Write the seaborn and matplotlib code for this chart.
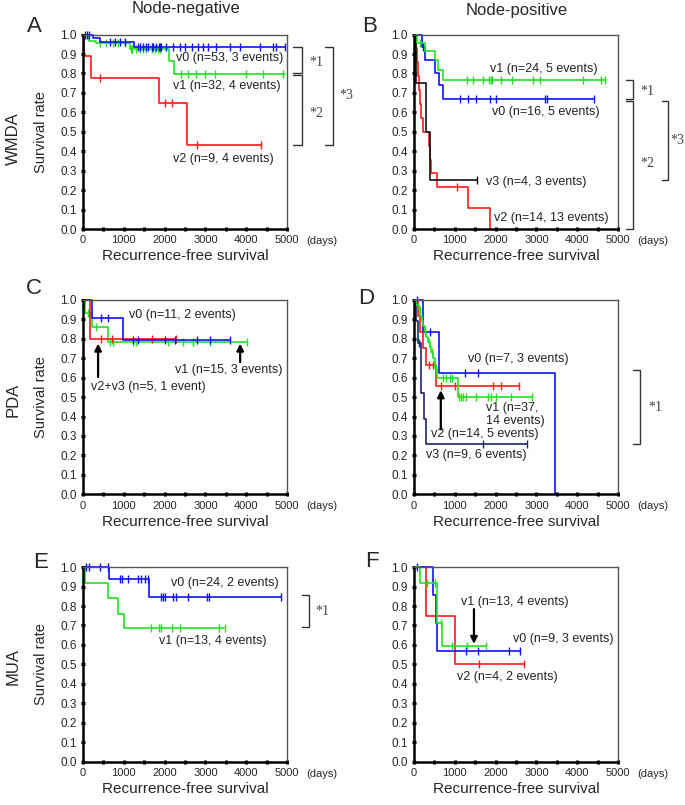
import numpy as np
import pandas as pd
import matplotlib
matplotlib.use('Agg')
import matplotlib.pyplot as plt
import matplotlib.transforms as mtransforms
from matplotlib.ticker import MultipleLocator, FormatStrFormatter
import seaborn as sns

#%% data (days, survival after each event, censored days)

# A: WMDA, node-negative
a_v0_t = [250, 420, 1240]
a_v0_s = [0.981, 0.962, 0.935]
a_v0_end = 4950
a_v0_c = [60, 100, 150, 650, 780, 900, 1020, 1350, 1390, 1470, 1550, 1590, 1680, 1720,
          1800, 1860, 1880, 1900, 2040, 2210, 2370, 2490, 2660, 2820, 2940, 3060, 3270,
          3600, 3840, 4330, 4660, 4740, 4950]
a_v1_t = [150, 330, 1150, 2100, 2230]
a_v1_s = [0.969, 0.955, 0.925, 0.865, 0.795]
a_v1_end = 4950
a_v1_c = [410, 570, 740, 860, 1020, 1170, 1190, 1310, 1390, 1470, 1550, 1680, 1760, 1840,
          1880, 2410, 2570, 2780, 2980, 3230, 4000, 4410, 4900]
a_v2_t = [20, 200, 1870, 2550]
a_v2_s = [0.889, 0.778, 0.648, 0.432]
a_v2_end = 4370
a_v2_c = [410, 2000, 2170, 2800, 4370]

# B: WMDA, node-positive
b_v1_t = [80, 270, 515, 600, 700]
b_v1_s = [0.958, 0.917, 0.87, 0.82, 0.765]
b_v1_end = 4700
b_v1_c = [150, 1310, 1440, 1700, 1840, 1880, 1900, 2120, 2390, 2920, 3080, 4140, 4590, 4670]
b_v0_t = [190, 270, 515, 620, 720]
b_v0_s = [0.9375, 0.867, 0.80, 0.74, 0.667]
b_v0_end = 4420
b_v0_c = [230, 1130, 1330, 1530, 1860, 2010, 3210, 3250, 4420]
b_v3_t = [50, 290, 390]
b_v3_s = [0.75, 0.5, 0.25]
b_v3_end = 1550
b_v3_c = [1550]
b_v2_t = [40, 70, 100, 130, 150, 180, 220, 375, 390, 405, 560, 1330, 1870]
b_v2_s = [0.929, 0.857, 0.786, 0.714, 0.643, 0.571, 0.5, 0.429, 0.357, 0.286, 0.214, 0.107, 0.0]
b_v2_end = 1870
b_v2_c = [1050]

# C: PDA, node-negative
c_v0_t = [230, 970]
c_v0_s = [0.909, 0.795]
c_v0_end = 3600
c_v0_c = [450, 615, 1230, 1350, 2020, 2250, 2790, 3110, 3600]
c_v23_t = [170]
c_v23_s = [0.8]
c_v23_end = 2270
c_v23_c = [430, 710, 1680, 2270]
c_v1_t = [60, 230, 600]
c_v1_s = [0.933, 0.862, 0.783]
c_v1_end = 4020
c_v1_c = [120, 330, 660, 740, 1230, 1300, 2090, 2460, 2700, 3110, 4020]

# D: PDA, node-positive
d_v0_t = [230, 620, 3450]
d_v0_s = [0.833, 0.625, 0.0]
d_v0_end = 3450
d_v0_c = [80, 400, 1250, 1580]
d_v2_t = [100, 150, 230, 290, 530]
d_v2_s = [0.917, 0.833, 0.75, 0.667, 0.556]
d_v2_end = 2570
d_v2_c = [370, 460, 660, 1000, 1930, 2120, 2570]
d_v1_t = [60, 110, 150, 190, 220, 260, 300, 340, 380, 420, 460, 520, 570, 1080]
d_v1_s = [0.973, 0.946, 0.919, 0.892, 0.865, 0.838, 0.811, 0.784, 0.757, 0.730, 0.703,
          0.65, 0.60, 0.50]
d_v1_end = 2890
d_v1_c = [145, 270, 375, 435, 540, 700, 780, 870, 920, 1100, 1140, 1190, 1270, 1530,
          1820, 1880, 2000, 2380, 2890]
d_v3_t = [50, 100, 160, 245, 294]
d_v3_s = [0.889, 0.778, 0.519, 0.389, 0.259]
d_v3_end = 2760
d_v3_c = [130, 1690, 2760]

# E: MUA, node-negative
e_v0_t = [640, 1620]
e_v0_s = [0.94, 0.845]
e_v0_end = 4860
e_v0_c = [65, 150, 410, 620, 900, 960, 1100, 1350, 1430, 1510, 1590, 1920, 1960, 2020,
          2210, 2290, 2570, 3040, 3100, 4860]
e_v1_t = [40, 600, 860, 1010]
e_v1_s = [0.917, 0.84, 0.76, 0.687]
e_v1_end = 3450
e_v1_c = [1670, 1860, 1900, 2190, 2370, 3330, 3470]

# F: MUA, node-positive
f_v0_t = [460, 530, 575]
f_v0_s = [0.857, 0.714, 0.571]
f_v0_end = 2600
f_v0_c = [80, 1270, 1570, 2340, 2600]
f_v1_t = [150, 560, 690]
f_v1_s = [0.917, 0.714, 0.595]
f_v1_end = 1770
f_v1_c = [320, 510, 650, 920, 1300, 1770]
f_v2_t = [300, 1000]
f_v2_s = [0.75, 0.5]
f_v2_end = 2700
f_v2_c = [1600, 2700]

BLUE = '#1010ff'
GREEN = '#22e022'
RED = '#ff1a1a'
BLACK = '#111111'
NAVY = '#25256a'

#%% helpers

def km(ax, t, s, end, cens, color):
    x = [0] + list(t) + [end]
    y = [1.0] + list(s) + [s[-1]]
    df = pd.DataFrame({'days': x, 'surv': y})
    sns.lineplot(data=df, x='days', y='surv', ax=ax, color=color, lw=1.2,
                 drawstyle='steps-post', estimator=None, sort=False, clip_on=False)
    # survival level at each censored time
    idx = np.searchsorted(np.array(t), np.array(cens), side='right')
    lev = np.concatenate([[1.0], s])[idx]
    ax.plot(cens, lev, ls='none', marker='|', ms=6, mew=1.0, color=color, clip_on=False)


def bracket(ax, x0, x1, ytop, ybot, label, tx, ty):
    tr = mtransforms.blended_transform_factory(ax.transAxes, ax.transData)
    ax.plot([x0, x1, x1, x0], [ytop, ytop, ybot, ybot], color='#333333', lw=1.0,
            transform=tr, clip_on=False)
    ax.text(tx, ty, label, transform=tr, fontsize=10, family='Liberation Serif',
            color='#444444', va='center', ha='left')


def arrow(ax, x, y_from, y_to):
    ax.annotate('', xy=(x, y_to), xytext=(x, y_from),
                arrowprops=dict(arrowstyle='-|>', color='black', lw=1.6,
                                mutation_scale=10, shrinkA=0, shrinkB=0))


def note(ax, x, y, txt):
    ax.text(x, y, txt, fontsize=9, ha='left', va='center', color='#222222',
            linespacing=1.05)


#%% figure

sns.set_style('white')
plt.rcParams['font.family'] = ['Liberation Sans', 'DejaVu Sans']

fig = plt.figure(figsize=(6.85, 8.05), dpi=100)

lefts = [0.1212, 0.6044]
bottoms = [0.7155, 0.386, 0.054]
w, h = 0.2978, 0.2415

axes = {}
for r, key_row in enumerate([('A', 'B'), ('C', 'D'), ('E', 'F')]):
    for c, key in enumerate(key_row):
        ax = fig.add_axes([lefts[c], bottoms[r], w, h])
        axes[key] = ax

# A
ax = axes['A']
km(ax, a_v2_t, a_v2_s, a_v2_end, a_v2_c, RED)
km(ax, a_v1_t, a_v1_s, a_v1_end, a_v1_c, GREEN)
km(ax, a_v0_t, a_v0_s, a_v0_end, a_v0_c, BLUE)
note(ax, 2290, 0.880, 'v0 (n=53, 3 events)')
note(ax, 2200, 0.738, 'v1 (n=32, 4 events)')
note(ax, 2200, 0.362, 'v2 (n=9, 4 events)')
bracket(ax, 1.029, 1.074, 0.935, 0.80, '*1', 1.11, 0.856)
bracket(ax, 1.029, 1.074, 0.79, 0.43, '*2', 1.11, 0.595)
bracket(ax, 1.186, 1.225, 0.935, 0.43, '*3', 1.255, 0.687)

# B
ax = axes['B']
km(ax, b_v2_t, b_v2_s, b_v2_end, b_v2_c, RED)
km(ax, b_v3_t, b_v3_s, b_v3_end, b_v3_c, BLACK)
km(ax, b_v0_t, b_v0_s, b_v0_end, b_v0_c, BLUE)
km(ax, b_v1_t, b_v1_s, b_v1_end, b_v1_c, GREEN)
note(ax, 1860, 0.824, 'v1 (n=24, 5 events)')
note(ax, 1900, 0.602, 'v0 (n=16, 5 events)')
note(ax, 1754, 0.243, 'v3 (n=4, 3 events)')
note(ax, 1958, 0.055, 'v2 (n=14, 13 events)')
bracket(ax, 1.039, 1.074, 0.765, 0.667, '*1', 1.108, 0.708)
bracket(ax, 1.039, 1.074, 0.657, 0.0, '*2', 1.108, 0.338)
bracket(ax, 1.216, 1.245, 0.657, 0.25, '*3', 1.255, 0.456)

# C
ax = axes['C']
km(ax, c_v1_t, c_v1_s, c_v1_end, c_v1_c, GREEN)
km(ax, c_v23_t, c_v23_s, c_v23_end, c_v23_c, RED)
km(ax, c_v0_t, c_v0_s, c_v0_end, c_v0_c, BLUE)
note(ax, 1131, 0.92, 'v0 (n=11, 2 events)')
note(ax, 2254, 0.638, 'v1 (n=15, 3 events)')
note(ax, 205, 0.552, 'v2+v3 (n=5, 1 event)')
arrow(ax, 369, 0.603, 0.775)
arrow(ax, 3852, 0.68, 0.775)

# D
ax = axes['D']
km(ax, d_v3_t, d_v3_s, d_v3_end, d_v3_c, NAVY)
km(ax, d_v0_t, d_v0_s, d_v0_end, d_v0_c, BLUE)
km(ax, d_v2_t, d_v2_s, d_v2_end, d_v2_c, RED)
km(ax, d_v1_t, d_v1_s, d_v1_end, d_v1_c, GREEN)
note(ax, 1323, 0.695, 'v0 (n=7, 3 events)')
note(ax, 1770, 0.41, 'v1 (n=37,\n14 events)')
note(ax, 406, 0.309, 'v2 (n=14, 5 events)')
note(ax, 292, 0.20, 'v3 (n=9, 6 events)')
arrow(ax, 657, 0.334, 0.535)
bracket(ax, 1.074, 1.108, 0.64, 0.257, '*1', 1.147, 0.446)

# E
ax = axes['E']
km(ax, e_v1_t, e_v1_s, e_v1_end, e_v1_c, GREEN)
km(ax, e_v0_t, e_v0_s, e_v0_end, e_v0_c, BLUE)
note(ax, 2165, 0.919, 'v0 (n=24, 2 events)')
note(ax, 1863, 0.619, 'v1 (n=13, 4 events)')
bracket(ax, 1.073, 1.108, 0.856, 0.694, '*1', 1.137, 0.77)

# F
ax = axes['F']
km(ax, f_v2_t, f_v2_s, f_v2_end, f_v2_c, RED)
km(ax, f_v0_t, f_v0_s, f_v0_end, f_v0_c, BLUE)
km(ax, f_v1_t, f_v1_s, f_v1_end, f_v1_c, GREEN)
note(ax, 1160, 0.823, 'v1 (n=13, 4 events)')
note(ax, 2419, 0.63, 'v0 (n=9, 3 events)')
note(ax, 1055, 0.437, 'v2 (n=4, 2 events)')
arrow(ax, 1469, 0.784, 0.605)

# axis styling after plotting so seaborn's own labels get replaced
for key, ax in axes.items():
    ax.set_xlim(0, 5000)
    ax.set_ylim(0, 1)
    ax.xaxis.set_major_locator(MultipleLocator(1000))
    ax.xaxis.set_minor_locator(MultipleLocator(500))
    ax.yaxis.set_major_locator(MultipleLocator(0.1))
    ax.yaxis.set_major_formatter(FormatStrFormatter('%.1f'))
    ax.tick_params(which='both', direction='inout', length=3, width=2.2, color='black',
                   pad=3, bottom=True, left=True)
    ax.tick_params(axis='x', labelsize=8)
    ax.tick_params(axis='y', labelsize=8.5)
    for side in ['top', 'right']:
        ax.spines[side].set_color('#555555')
        ax.spines[side].set_linewidth(1.0)
    for side in ['left', 'bottom']:
        ax.spines[side].set_color('black')
        ax.spines[side].set_linewidth(1.8)
    ax.set_xlabel('Recurrence-free survival', fontsize=11)
    ax.xaxis.set_label_coords(0.5, -0.105)
    ax.text(1.095, -0.062, '(days)', transform=ax.transAxes, fontsize=8, va='center',
            ha='left')
    if key in 'ACE':
        ax.set_ylabel('Survival rate', fontsize=10.5)
        ax.yaxis.set_label_coords(-0.17, 0.5)
    else:
        ax.set_ylabel('')

# panel letters, row and column titles
W, H = 685.0, 805.0
for lab, px, py in [('A', 27, 26), ('B', 362, 27), ('C', 26, 289),
                    ('D', 358, 298), ('E', 33, 562), ('F', 365, 561)]:
    fig.text(px / W, 1 - py / H, lab, fontsize=16, va='center', ha='left')
for lab, py in [('WMDA', 139), ('PDA', 400), ('MUA', 666)]:
    fig.text(13 / W, 1 - py / H, lab, fontsize=12, rotation=90, va='center', ha='center')
fig.text(186 / W, 1 - 9 / H, 'Node-negative', fontsize=12, ha='center', va='center')
fig.text(517 / W, 1 - 11 / H, 'Node-positive', fontsize=12, ha='center', va='center')

plt.savefig('out.png', dpi=100)
